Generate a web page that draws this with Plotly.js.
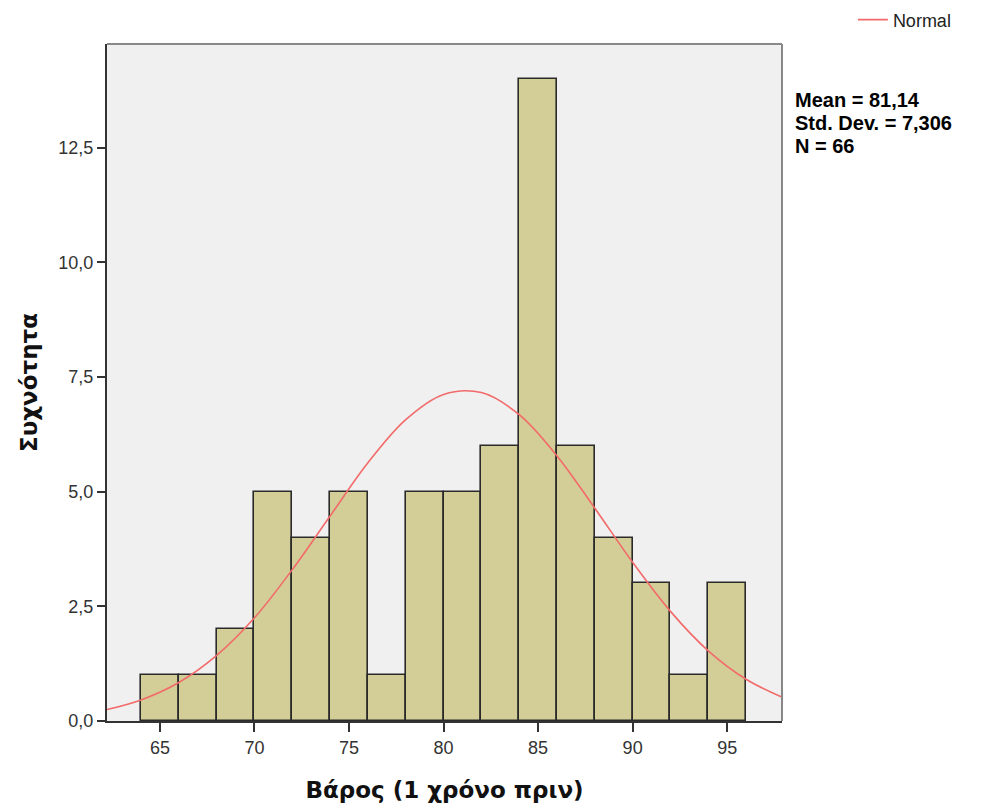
<!DOCTYPE html>
<html>
<head>
<meta charset="utf-8">
<script src="https://cdn.plot.ly/plotly-3.0.1.min.js"></script>
<style>html,body{margin:0;padding:0;background:#fff;}#chart{width:997px;height:810px;}</style>
</head>
<body>
<div id="chart"></div>
<script>
// Histogram bins (centers, width 2) and frequencies
const binCenters = [65, 67, 69, 71, 73, 75, 77, 79, 81, 83, 85, 87, 89, 91, 93, 95];
const frequencies = [1, 1, 2, 5, 4, 5, 1, 5, 5, 6, 14, 6, 4, 3, 1, 3];
// Normal curve
const curveX = [62, 64, 66, 68, 70, 72, 74, 76, 78, 80, 82, 84, 86, 88, 90, 92, 94, 96, 98];
const curveY = [0.23, 0.46, 0.84, 1.43, 2.25, 3.30, 4.47, 5.63, 6.57, 7.12, 7.16, 6.68, 5.78, 4.64, 3.46, 2.39, 1.53, 0.91, 0.50];
const xTicks = [65, 70, 75, 80, 85, 90, 95];
const yTicks = [0, 2.5, 5, 7.5, 10, 12.5];
const statsLines = ["Mean = 81,14", "Std. Dev. = 7,306", "N = 66"];

const traces = [
  {
    type: 'bar', x: binCenters, y: frequencies, width: 2,
    marker: {color: '#d3ce97', line: {color: '#2a2a2a', width: 1.6}},
    showlegend: false, hoverinfo: 'x+y'
  },
  {
    type: 'scatter', mode: 'lines', x: curveX, y: curveY, name: 'Normal',
    line: {color: '#f26a6a', width: 1.6, shape: 'spline', smoothing: 1.0}
  }
];

// paper y positions of the three stats lines
const statsY = [0.9173, 0.8833, 0.8493];

const layout = {
  width: 997, height: 810,
  margin: {l: 107, r: 215, t: 44, b: 89, autoexpand: false},
  paper_bgcolor: '#ffffff', plot_bgcolor: '#f0f0f0',
  separators: ',.',
  font: {family: 'Liberation Sans, Arial, sans-serif', color: '#222', size: 15},
  bargap: 0,
  xaxis: {
    range: [62.2, 97.9], tickvals: xTicks, ticks: 'outside', ticklen: 9, tickwidth: 2, tickcolor: '#333',
    showgrid: false, zeroline: false, showline: true, linecolor: '#333', linewidth: 2,
    tickfont: {size: 18, color: '#333'},
    title: {text: 'Βάρος (1 χρόνο πριν)', font: {family: 'DejaVu Sans', size: 23, color: '#111', weight: 'bold'}, standoff: 25}
  },
  yaxis: {
    range: [0, 14.76], tickvals: yTicks, tickformat: '.1f', ticks: 'outside', ticklen: 8, tickwidth: 2, tickcolor: '#333',
    showgrid: false, zeroline: false, showline: true, linecolor: '#333', linewidth: 2,
    tickfont: {size: 18, color: '#333'},
    title: {text: 'Συχνότητα', font: {family: 'DejaVu Sans', size: 23, color: '#111', weight: 'bold'}, standoff: 14}
  },
  shapes: [
    {type: 'line', xref: 'paper', yref: 'paper', x0: 0, x1: 1, y0: 1, y1: 1, line: {color: '#888', width: 2}},
    {type: 'line', xref: 'paper', yref: 'paper', x0: 1, x1: 1, y0: 0, y1: 1, line: {color: '#888', width: 2}}
  ],
  showlegend: true,
  legend: {
    x: 1.105, xanchor: 'left', y: 1.0355, yanchor: 'middle', yref: 'paper',
    font: {size: 18, color: '#222'}, bgcolor: 'rgba(0,0,0,0)', borderwidth: 0
  },
  annotations: statsLines.map((s, i) => ({
    xref: 'paper', yref: 'paper', x: 1.017, y: statsY[i], xanchor: 'left', yanchor: 'middle', align: 'left', showarrow: false,
    text: '<b>' + s + '</b>',
    font: {family: 'Liberation Sans, Arial, sans-serif', size: 20, color: '#000'}
  }))
};

Plotly.newPlot('chart', traces, layout, {displayModeBar: false});
</script>
</body>
</html>
